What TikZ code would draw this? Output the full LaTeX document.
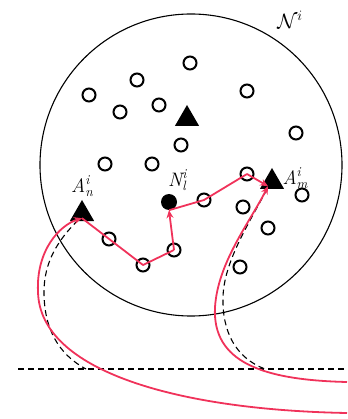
\documentclass[tikz,border=0pt]{standalone}
\usepackage{fontspec}
\usetikzlibrary{shapes.geometric,arrows.meta}
\definecolor{pathred}{RGB}{240,50,90}
\newcommand{\scrpair}[2]{\rlap{\raisebox{0.42em}{\fontsize{13.5}{15}\selectfont\itshape #1}}\raisebox{-0.22em}{\fontsize{13.5}{15}\selectfont\itshape #2}}
\begin{document}
\begin{tikzpicture}[x=1pt,y=-1pt,
 nd/.style={circle,draw,line width=2pt,minimum size=13pt,inner sep=0pt},
 anc/.style={regular polygon,regular polygon sides=3,fill,inner sep=0pt,minimum size=28pt},
 hd/.style={circle,fill,minimum size=16pt,inner sep=0pt},
 rp/.style={draw=pathred,line width=1.8pt,line join=round},
 ra/.style={rp,-{Stealth[length=8pt,width=7pt]}},
 dl/.style={line width=1.1pt,dash pattern=on 6pt off 4pt},
 lbl/.style={inner sep=0pt,font=\fontsize{19.5}{22}\selectfont\itshape}]
\useasboundingbox (0,0) rectangle (347,419);
% network circle
\node[circle,draw,line width=1.1pt,minimum size=302pt,inner sep=0pt] (net) at (191,165) {};
\node[lbl] (lN) at (290,20) {$\mathcal{N}^i$};
% ordinary nodes
\node[nd] (o1) at (190,63) {};
\node[nd] (o2) at (137,80) {};
\node[nd] (o3) at (89,95) {};
\node[nd] (o4) at (120,112) {};
\node[nd] (o5) at (159,105) {};
\node[nd] (o6) at (247,91) {};
\node[nd] (o7) at (296,133) {};
\node[nd] (o8) at (181,145) {};
\node[nd] (o9) at (105,164) {};
\node[nd] (o10) at (152,164) {};
\node[nd] (o11) at (247,174) {};
\node[nd] (o12) at (302,195) {};
\node[nd] (o13) at (204,200) {};
\node[nd] (o14) at (243,207) {};
\node[nd] (o15) at (109,239) {};
\node[nd] (o16) at (143,265) {};
\node[nd] (o17) at (174,250) {};
\node[nd] (o18) at (268,228) {};
\node[nd] (o19) at (240,267) {};
% anchors
\node[anc] (At) at (187,119) {};
\node[anc] (An) at (82,214) {};
\node[anc] (Am) at (272,182) {};
\node[hd] (Nl) at (169,202) {};
% labels
\node[lbl] (lAn) at (82,186) {A\scrpair{i}{n}};
\node[lbl] (lNl) at (177,180) {N\scrpair{i}{l}};
\node[lbl] (lAm) at (295,178) {A\scrpair{i}{m}};
% free ends
\coordinate (e1) at (347,413);
\coordinate (e2) at (347,382);
\coordinate (h1) at (18,369);
\coordinate (h2) at (347,369);
\coordinate (d1) at (86,369);
\coordinate (d2) at (265,369);
% horizontal dashed line
\draw[dl] (h1) -- (h2);
% dashed curves
\draw[dl] ([xshift=-4pt,yshift=1pt]An.south) .. controls (58,240) and (44,262) .. (44,292) .. controls (44,328) and (58,354) .. (d1);
\draw[dl] ([xshift=-5pt,yshift=0pt]Am.south) .. controls (248,225) and (224,262) .. (223,297) .. controls (222,332) and (236,358) .. (d2);
% red routes
\draw[rp] ([yshift=3pt]An.south) -- (o16.center) -- (o17.center);
\draw[ra] (o17.center) -- (Nl.south);
\draw[rp] (Nl.south) -- (o13.center) -- (o11.center);
\draw[ra] (o11.center) -- ([xshift=-4pt,yshift=3pt]Am.south);
\draw[ra] (e1) .. controls (180,410) and (40,372) .. (38,292) .. controls (36,250) and (60,225) .. ([yshift=3pt]An.south);
\draw[ra] (e2) .. controls (262,380) and (212,362) .. (215,307) .. controls (218,262) and (250,222) .. ([xshift=-4pt,yshift=3pt]Am.south);
\end{tikzpicture}
\end{document}
